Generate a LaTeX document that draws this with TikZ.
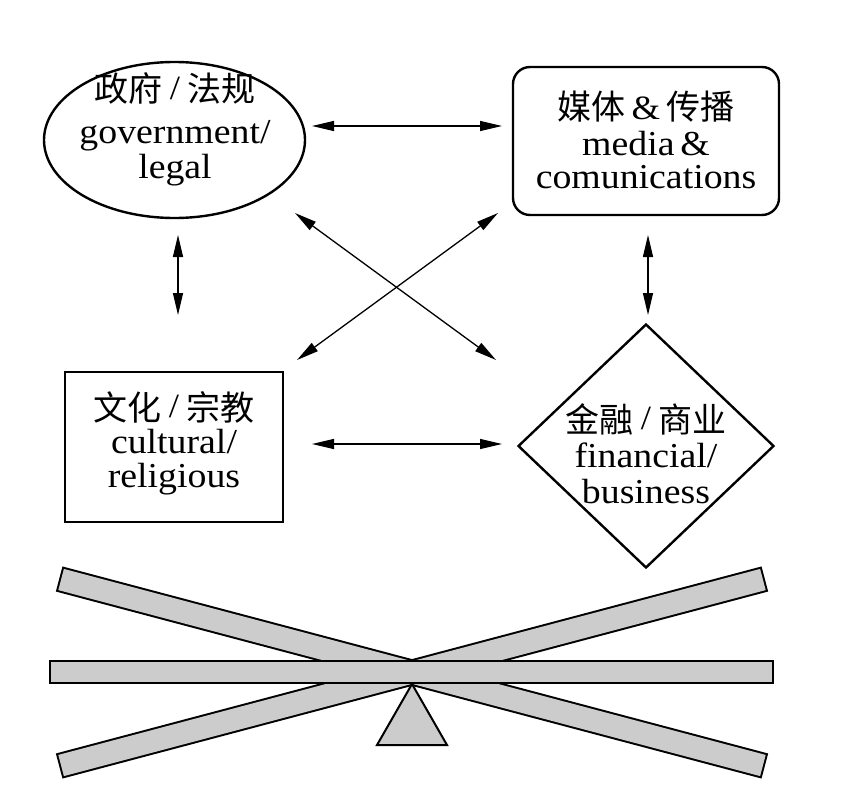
\documentclass[tikz,border=0pt]{standalone}
\usepackage{fontspec}
\setmainfont{Liberation Serif}
\newfontfamily\enf[FakeStretch=1.08]{Liberation Serif}
\newfontfamily\zh{Noto Sans CJK SC}
\usetikzlibrary{arrows.meta,shapes.geometric}
\definecolor{barg}{gray}{0.8}
\newcommand{\slsh}{\hspace{7pt}\raisebox{2.5pt}{\enf\fontsize{34}{34}\selectfont /}\hspace{7pt}}
\begin{document}
\begin{tikzpicture}[x=1pt,y=-1pt,
  box/.style={draw,line width=2.4pt,inner sep=0pt,outer sep=0pt},
  en/.style={anchor=base,inner sep=0pt,font=\enf\fontsize{35}{30}\selectfont},
  cn/.style={anchor=base,inner sep=0pt,font=\fontsize{34}{34}\selectfont},
  conn/.style={line width=1.3pt,{Triangle[length=22pt,width=10pt]}-{Triangle[length=22pt,width=10pt]}},
  barline/.style={draw=black,fill=barg,line width=4pt,line join=miter},
  barpart/.style={draw=black,fill=barg,line width=2pt,line join=miter}]
\useasboundingbox (0,0) rectangle (845,797);

% shapes
\node[box,ellipse,minimum width=261pt,minimum height=156pt] (gov) at (174.5,140) {};
\node[box,rectangle,rounded corners=17pt,minimum width=266pt,minimum height=148pt] (media) at (646,141) {};
\node[box,rectangle,minimum width=218pt,minimum height=150pt] (cult) at (174,447) {};
\node[box,diamond,minimum width=255pt,minimum height=243pt] (fin) at (646,446) {};

% labels
\node[cn] (govzh) at (175,102) {{\zh 政府}\slsh{\zh 法规}};
\node[en] (goven1) at (175,143) {government/};
\node[en] (goven2) at (175,178) {legal};

\node[cn] (mediazh) at (646,120) {{\zh 媒体}\hspace{6pt}{\enf\fontsize{34}{34}\selectfont\&}\hspace{6pt}{\zh 传播}};
\node[en] (mediaen1) at (646,155) {media\,\&};
\node[en] (mediaen2) at (646,188) {comunications};

\node[cn] (cultzh) at (174,420) {{\zh 文化}\slsh{\zh 宗教}};
\node[en] (culten1) at (174,453) {cultural/};
\node[en] (culten2) at (174,487) {religious};

\node[cn] (finzh) at (646,432) {{\zh 金融}\slsh{\zh 商业}};
\node[en] (finen1) at (646,467) {financial/};
\node[en] (finen2) at (646,503) {business};

% connector ends
\coordinate (gm1) at (312,126);  \coordinate (gm2) at (502,126);
\coordinate (cf1) at (312,444);  \coordinate (cf2) at (502,444);
\coordinate (gc1) at (178,235);  \coordinate (gc2) at (178,315);
\coordinate (mf1) at (648,235);  \coordinate (mf2) at (648,315);
\coordinate (gf1) at (295,213);  \coordinate (gf2) at (496,360);
\coordinate (mc1) at (498,213);  \coordinate (mc2) at (297,360);

\draw[conn] (gm1) -- (gm2);
\draw[conn] (cf1) -- (cf2);
\draw[conn] (gc1) -- (gc2);
\draw[conn] (mf1) -- (mf2);
\draw[conn] (gf1) -- (gf2);
\draw[conn] (mc1) -- (mc2);

% seesaw
\draw[barline] (63.9,568.9) -- (765.7,754.9) -- (760.1,776.1) -- (58.3,590.1) -- cycle;
\draw[barline] (760.1,568.9) -- (58.3,754.9) -- (63.9,776.1) -- (765.7,590.1) -- cycle;
\fill[barg] (63.9,568.9) -- (765.7,754.9) -- (760.1,776.1) -- (58.3,590.1) -- cycle;
\fill[barg] (760.1,568.9) -- (58.3,754.9) -- (63.9,776.1) -- (765.7,590.1) -- cycle;
\draw[barpart] (412,684) -- (447,745) -- (377,745) -- cycle;
\draw[barpart] (50,661) rectangle (773,683);
\end{tikzpicture}
\end{document}
